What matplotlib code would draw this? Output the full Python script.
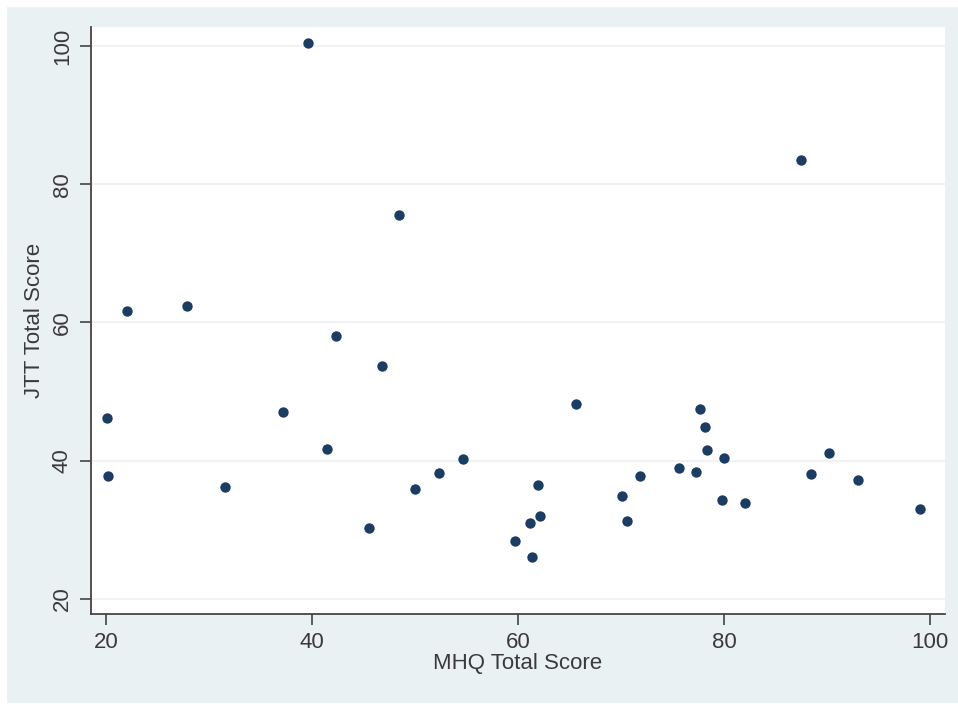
import matplotlib
matplotlib.use("Agg")
import matplotlib.pyplot as plt
from matplotlib.patches import Rectangle

# MHQ vs JTT scores
mhq = [39.6, 48.4, 87.5, 22.0, 27.9, 42.3, 46.8, 20.1, 37.2, 41.5,
       54.7, 52.3, 20.2, 31.6, 50.0, 45.5, 65.6, 77.7, 78.2, 78.3,
       90.2, 80.0, 75.6, 77.3, 88.4, 71.8, 93.0, 61.9, 70.1, 79.8,
       82.0, 99.0, 70.6, 62.1, 61.2, 59.7, 61.4]
jtt = [100.5, 75.6, 83.5, 61.6, 62.4, 58.0, 53.7, 46.2, 47.0, 41.7,
       40.3, 38.2, 37.8, 36.2, 35.9, 30.2, 48.2, 47.5, 44.9, 41.6,
       41.1, 40.4, 39.0, 38.4, 38.1, 37.8, 37.2, 36.5, 34.9, 34.3,
       33.8, 33.0, 31.2, 32.0, 30.9, 28.3, 26.1]

xticks = [20, 40, 60, 80, 100]
yticks = [20, 40, 60, 80, 100]

plt.rcParams['font.family'] = ['Liberation Sans', 'DejaVu Sans']

fig = plt.figure(figsize=(9.58, 7.09), dpi=100)
fig.patch.set_facecolor('white')
# Stata-like graph region, drawn behind the axes
fig.add_artist(Rectangle((7 / 958, 6 / 709), 951 / 958, 696 / 709,
                         transform=fig.transFigure, facecolor='#eaf1f3',
                         edgecolor='none', zorder=-10))

ax = fig.add_axes([91 / 958, 1 - 614 / 709, (945 - 91) / 958, (614 - 27) / 709])
ax.set_facecolor('white')

ax.scatter(mhq, jtt, s=56, color='#1b3d63', zorder=3, linewidths=0)

ax.set_xlim(18.55, 101.45)
ax.set_ylim(17.8, 102.75)
ax.set_xticks(xticks)
ax.set_yticks(yticks)
ax.yaxis.grid(True, color='#f0f3f5', linewidth=1.5)
ax.set_axisbelow(True)

for s in ['top', 'right']:
    ax.spines[s].set_visible(False)
for s in ['left', 'bottom']:
    ax.spines[s].set_color('#444444')
    ax.spines[s].set_linewidth(1.3)

ax.tick_params(axis='both', direction='out', length=8, width=1.2,
               color='#444444', labelcolor='#3a3a3a', labelsize=16, pad=5)
for lab in ax.get_yticklabels():
    lab.set_rotation(90)
    lab.set_va('center')

ax.set_xlabel('MHQ Total Score', fontsize=16, color='#3a3a3a', labelpad=0)
ax.set_ylabel('JTT Total Score', fontsize=16, color='#3a3a3a', labelpad=5)

fig.savefig('out.png', dpi=100)
